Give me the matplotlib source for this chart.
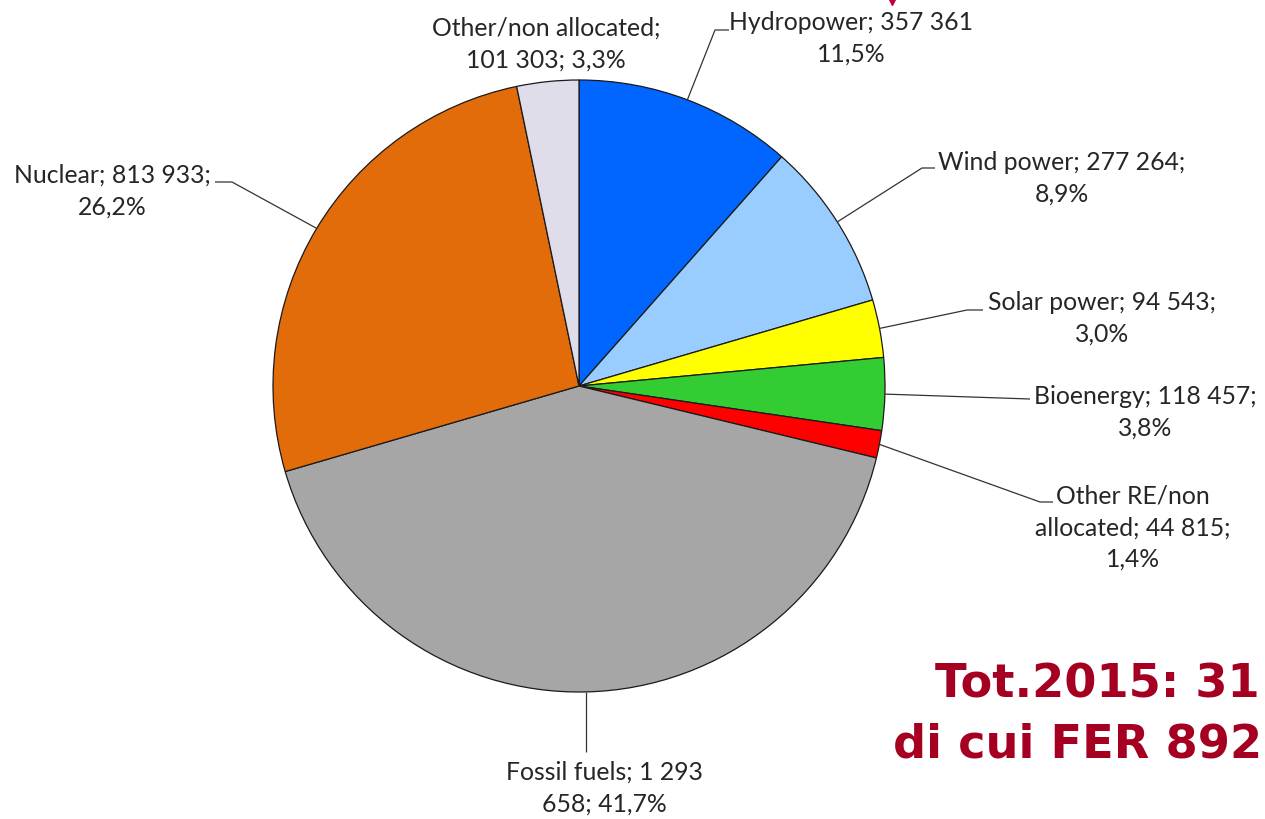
import numpy as np
import matplotlib
matplotlib.use("Agg")
import matplotlib.pyplot as plt

# data (clockwise from 12 o'clock)
names = ["Hydropower", "Wind power", "Solar power", "Bioenergy", "Other RE/non allocated",
         "Fossil fuels", "Nuclear", "Other/non allocated"]
values = [357361, 277264, 94543, 118457, 44815, 1293658, 813933, 101303]
labels = ["Hydropower; 357 361\n11,5%",
          "Wind power; 277 264;\n8,9%",
          "Solar power; 94 543;\n3,0%",
          "Bioenergy; 118 457;\n3,8%",
          "Other RE/non\nallocated; 44 815;\n1,4%",
          "Fossil fuels; 1 293\n658; 41,7%",
          "Nuclear; 813 933;\n26,2%",
          "Other/non allocated;\n101 303; 3,3%"]
colors = ["#0066FF", "#99CCFF", "#FFFF00", "#33CC33", "#FF0000",
          "#A6A6A6", "#E26B0A", "#E0DDEB"]
total_lines = ["Tot.2015: 31", "di cui FER 892"]

W, H = 1265, 819
def Y(py):
    # pixel row -> data y
    return H - py

fig = plt.figure(figsize=(W / 100, H / 100), dpi=100)
ax = fig.add_axes([0, 0, 1, 1])

cx, cy, r = 579, 386, 306
wedges, _ = ax.pie(values, colors=colors, startangle=90, counterclock=False,
                   center=(cx, Y(cy)), radius=r,
                   wedgeprops=dict(edgecolor="#1a1a1a", linewidth=0.9))
ax.set_xlim(0, W)
ax.set_ylim(0, H)
ax.set_aspect("equal")
ax.axis("off")

# label block centres and leader bends (pixel coords), None = no leader
label_pos = [(851, 38), (1062, 178), (1102, 318), (1145, 412), (1133, 528),
             (604, 788), (112, 191), (546, 44)]
leaders = [[(715, 30), (729, 30)],
           [(922, 168), (935, 168)],
           [(967, 310), (983, 310)],
           [(1030, 399)],
           [(1040, 502), (1053, 502)],
           None,
           [(232, 182), (215, 182)],
           None]

for w, lab, pos, lead in zip(wedges, labels, label_pos, leaders):
    mid = np.deg2rad((w.theta1 + w.theta2) / 2)
    ex, ey = cx + r * np.cos(mid), cy - r * np.sin(mid)
    if lab.startswith("Fossil"):
        lead = [(ex, 752)]
    if lead is not None:
        pts = [(ex, ey)] + lead
        ax.plot([p[0] for p in pts], [Y(p[1]) for p in pts], color="#333333",
                lw=0.9, solid_capstyle="butt")
    ax.text(pos[0], Y(pos[1]), lab, ha="center", va="center", ma="center",
            fontsize=17.8, family="Lato", color="#262626", linespacing=1.45)

# totals (the source slide crops them at the right edge)
ax.text(935, Y(685), total_lines[0], ha="left", va="center", fontsize=33.3,
        fontweight="bold", family="DejaVu Sans", color="#A50021")
ax.text(893, Y(745), total_lines[1], ha="left", va="center", fontsize=33.3,
        fontweight="bold", family="DejaVu Sans", color="#A50021")

# small red marker tip at top edge
ax.plot([892], [Y(1)], marker="v", color="#C0003A", markersize=6, clip_on=False)

fig.savefig("out.png", dpi=100)
